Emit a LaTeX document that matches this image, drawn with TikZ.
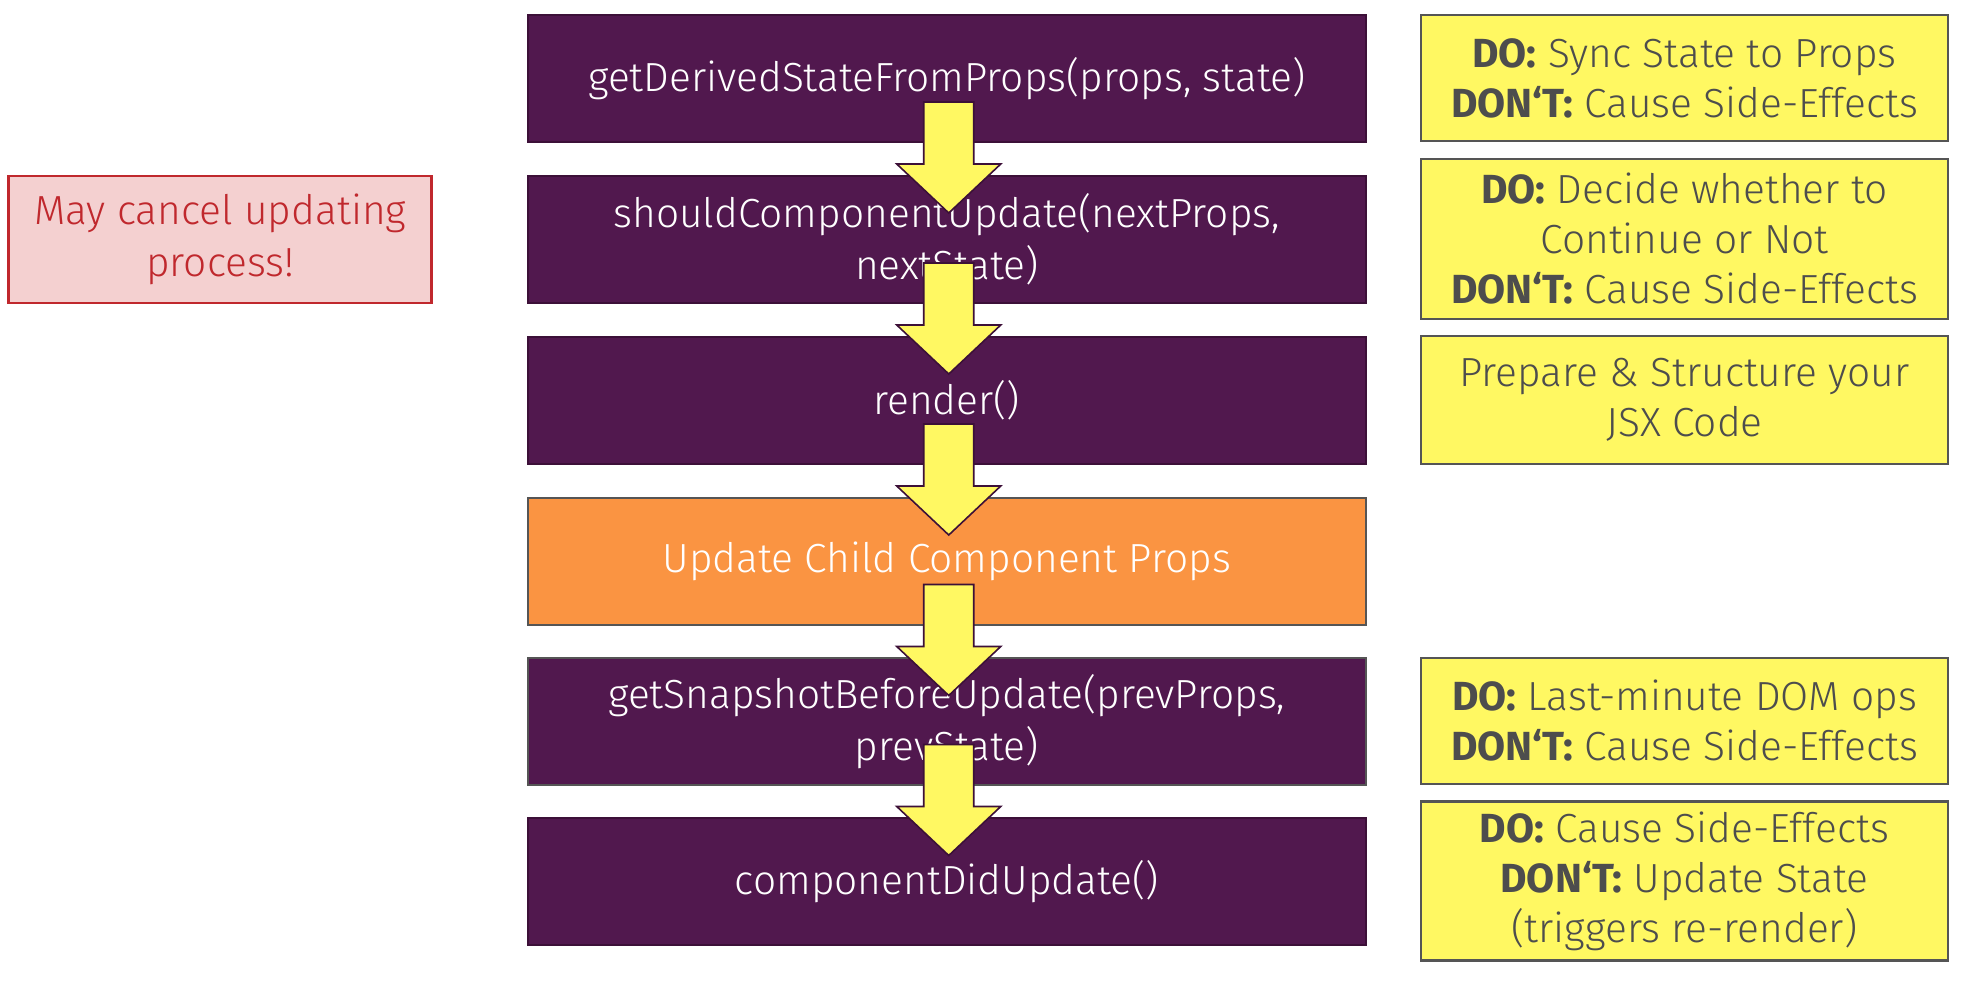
\documentclass[tikz,border=0pt]{standalone}
\usepackage{fontspec}
\setmainfont{Fira Sans}[UprightFont={* Light}, BoldFont={* Bold}]
\usepackage{xcolor}
\usetikzlibrary{calc}

\definecolor{hookpurple}{RGB}{81,24,78}
\definecolor{hookedge}{RGB}{60,16,56}
\definecolor{childorange}{RGB}{250,148,66}
\definecolor{noteyellow}{RGB}{255,248,98}
\definecolor{notegray}{RGB}{85,85,85}
\definecolor{notetext}{RGB}{77,77,77}
\definecolor{warnfill}{RGB}{244,208,208}
\definecolor{warnred}{RGB}{192,40,45}

\tikzset{
  hookbox/.style={draw=hookedge, line width=1.5, fill=hookpurple, text=white, align=center,
    minimum width=0.75*838.5pt, minimum height=0.75*127pt, inner sep=0pt, font=\fontsize{30.5}{39}\selectfont},
  notebox/.style={draw=notegray, line width=2, fill=noteyellow, text=notetext, align=center,
    minimum width=0.75*527pt, inner sep=0pt, font=\fontsize{30.5}{37.5}\selectfont},
  warnbox/.style={draw=warnred, line width=2, fill=warnfill, text=warnred, align=center,
    minimum width=0.75*423pt, minimum height=0.75*127pt, inner sep=0pt, font=\fontsize{30.5}{39}\selectfont},
  downarrow/.style={draw=hookedge, line width=1.2, fill=noteyellow, line join=miter}
}

\begin{document}
\begin{tikzpicture}[x=0.75pt,y=0.75pt,yscale=-1]
    \useasboundingbox (0,0) rectangle (1963,981);

    % Lifecycle hooks
    \node [hookbox] (getds) at (946.75,78.5) {getDerivedStateFromProps(props, state)};
    \node [hookbox] (should) at (946.75,239.5) {shouldComponentUpdate(nextProps,\\ nextState)};
    \node [hookbox] (render) at (946.75,400.5) {render()};
    \node [hookbox, fill=childorange, draw=notegray] (child) at (946.75,561.5) {Update Child Component Props};
    \node [hookbox, draw=notegray] (snap) at (946.75,721.5) {getSnapshotBeforeUpdate(prevProps,\\ prevState)};
    \node [hookbox] (didupd) at (946.75,881.5) {componentDidUpdate()};

    % Warning
    \node [warnbox] (cancel) at (220.25,239.5) {May cancel updating\\ process!};

    % Notes
    \node [notebox, minimum height=0.75*126pt] (notegetds) at (1684.5,78) {\textbf{DO:} Sync State to Props\\ \textbf{DON‘T:} Cause Side-Effects};
    \node [notebox, minimum height=0.75*160pt] (noteshould) at (1684.5,239) {\textbf{DO:} Decide whether to\\ Continue or Not\\ \textbf{DON‘T:} Cause Side-Effects};
    \node [notebox, minimum height=0.75*128pt] (noterender) at (1684.5,400) {Prepare \& Structure your\\ JSX Code};
    \node [notebox, minimum height=0.75*126pt] (notesnap) at (1684.5,721) {\textbf{DO:} Last-minute DOM ops\\ \textbf{DON‘T:} Cause Side-Effects};
    \node [notebox, minimum height=0.75*159pt] (notedidupd) at (1684.5,881) {\textbf{DO:} Cause Side-Effects\\ \textbf{DON‘T:} Update State\\ (triggers re-render)};

    % Block arrows
    \foreach \a/\b in {getds/should, should/render, render/child, child/snap, snap/didupd} {
      \coordinate (mid) at ($(\a.south)!0.5!(\b.north)+(2,0)$);
      \draw [downarrow] ($(mid)+(-25,-57)$) -- ($(mid)+(25,-57)$) -- ($(mid)+(25,5)$) -- ($(mid)+(52,5)$)
        -- ($(mid)+(0,54)$) -- ($(mid)+(-52,5)$) -- ($(mid)+(-25,5)$) -- cycle;
    }

\end{tikzpicture}
\end{document}
